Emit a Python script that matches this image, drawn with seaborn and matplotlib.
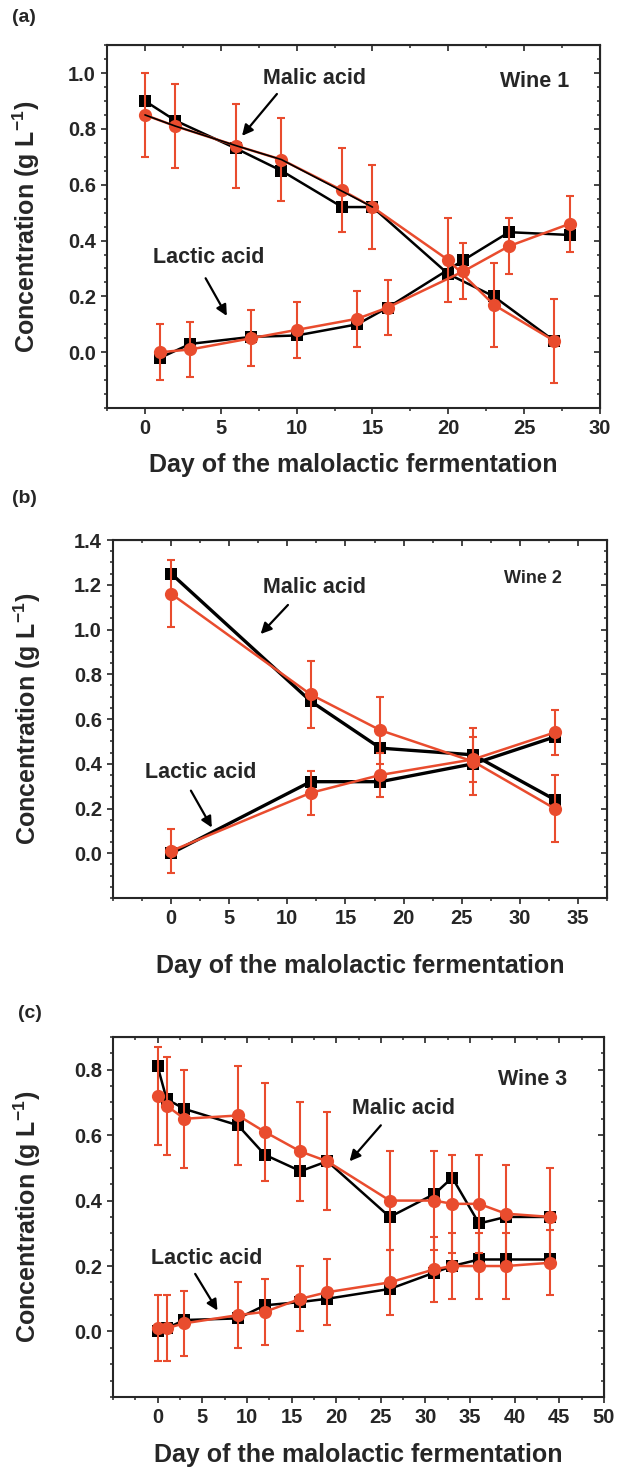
import matplotlib
matplotlib.use("Agg")
import matplotlib.pyplot as plt
from matplotlib.ticker import MultipleLocator, FormatStrFormatter
import seaborn as sns

sns.set_style("ticks")
plt.rcParams["font.family"] = ["Liberation Sans", "DejaVu Sans"]
plt.rcParams["font.weight"] = "bold"
plt.rcParams["mathtext.fontset"] = "custom"
plt.rcParams["mathtext.rm"] = "Liberation Sans:bold"
plt.rcParams["mathtext.default"] = "rm"

RED = "#E94C2E"

# (a) Wine 1 - malic and lactic sampled on alternate days
a_malic_days = [0, 2, 6, 9, 13, 15, 20, 23, 27]
a_malic_black = [0.90, 0.83, 0.73, 0.65, 0.52, 0.52, 0.28, 0.20, 0.04]
a_malic_red = [0.85, 0.81, 0.74, 0.69, 0.58, 0.52, 0.33, 0.17, 0.04]
a_malic_err = [0.15] * 9
a_lactic_days = [1, 3, 7, 10, 14, 16, 21, 24, 28]
a_lactic_black = [-0.02, 0.03, 0.055, 0.06, 0.10, 0.16, 0.33, 0.43, 0.42]
a_lactic_red = [0.00, 0.01, 0.05, 0.08, 0.12, 0.16, 0.29, 0.38, 0.46]
a_lactic_err = [0.10] * 9

# (b) Wine 2
b_days = [0, 12, 18, 26, 33]
b_malic_black = [1.25, 0.68, 0.47, 0.44, 0.24]
b_malic_red = [1.16, 0.71, 0.55, 0.41, 0.20]
b_malic_err = [0.15] * 5
b_lactic_black = [0.00, 0.32, 0.32, 0.40, 0.52]
b_lactic_red = [0.01, 0.27, 0.35, 0.42, 0.54]
b_lactic_err = [0.10] * 5

# (c) Wine 3
c_days = [0, 1, 3, 9, 12, 16, 19, 26, 31, 33, 36, 39, 44]
c_malic_black = [0.81, 0.71, 0.68, 0.63, 0.54, 0.49, 0.52, 0.35, 0.42, 0.47, 0.33, 0.35, 0.35]
c_malic_red = [0.72, 0.69, 0.65, 0.66, 0.61, 0.55, 0.52, 0.40, 0.40, 0.39, 0.39, 0.36, 0.35]
c_malic_err = [0.15] * 13
c_lactic_black = [0.00, 0.01, 0.035, 0.04, 0.08, 0.09, 0.10, 0.13, 0.18, 0.20, 0.22, 0.22, 0.22]
c_lactic_red = [0.01, 0.01, 0.025, 0.05, 0.06, 0.10, 0.12, 0.15, 0.19, 0.20, 0.20, 0.20, 0.21]
c_lactic_err = [0.10] * 13


def draw_series(ax, days, black, red, err, black_lw=1.8):
    sns.lineplot(x=days, y=black, ax=ax, color="black", marker="s", markersize=8.5,
                 markeredgewidth=0, linewidth=black_lw, estimator=None, zorder=2)
    ax.errorbar(days, red, yerr=err, fmt="none", ecolor=RED, elinewidth=1.5,
                capsize=3, capthick=1.5, zorder=3)
    sns.lineplot(x=days, y=red, ax=ax, color=RED, marker="o", markersize=9.5,
                 markeredgewidth=0, linewidth=1.8, estimator=None, zorder=4)


def style_axes(ax, xlim, ylim, xmax_tick, ymax_tick, xlabel_y, ylabel_x):
    ax.set_xlim(*xlim)
    ax.set_ylim(*ylim)
    yt = [i * 0.2 for i in range(int(round(ymax_tick / 0.2)) + 1)]
    ax.set_xticks(range(0, xmax_tick + 1, 5))
    ax.xaxis.set_minor_locator(MultipleLocator(2.5))
    ax.set_yticks(yt)
    ax.yaxis.set_minor_locator(MultipleLocator(0.05))
    ax.yaxis.set_major_formatter(FormatStrFormatter("%.1f"))
    ax.tick_params(which="major", direction="out", length=4.5, width=1.2, labelsize=14.5)
    ax.tick_params(which="minor", direction="out", length=2.5, width=1.1)
    for lab in ax.get_xticklabels() + ax.get_yticklabels():
        lab.set_fontweight("bold")
    for s in ax.spines.values():
        s.set_linewidth(1.5)
        s.set_visible(True)

    # Origin-style inward ticks on the top and right frame
    top = ax.secondary_xaxis("top")
    top.set_xticks(range(0, xmax_tick + 1, 5))
    top.xaxis.set_minor_locator(MultipleLocator(2.5))
    top.tick_params(which="major", direction="in", length=4.5, width=1.2, labeltop=False)
    top.tick_params(which="minor", direction="in", length=2.5, width=1.1)
    right = ax.secondary_yaxis("right")
    right.set_yticks(yt)
    right.yaxis.set_minor_locator(MultipleLocator(0.05))
    right.tick_params(which="major", direction="in", length=4.5, width=1.2, labelright=False)
    right.tick_params(which="minor", direction="in", length=2.5, width=1.1)

    ax.set_xlabel("Day of the malolactic fermentation", fontsize=18, fontweight="bold")
    ax.set_ylabel("Concentration (g L$^{-1}$)", fontsize=18, fontweight="bold")
    ax.xaxis.set_label_coords(0.5, xlabel_y)
    ax.yaxis.set_label_coords(ylabel_x, 0.5)


def arrow(ax, tail, head):
    ax.annotate("", xy=head, xytext=tail,
                arrowprops=dict(arrowstyle="-|>", color="black", lw=1.6,
                                mutation_scale=16, shrinkA=0, shrinkB=0))


fig = plt.figure(figsize=(6.19, 14.70), dpi=100)

# panel (a)
ax_a = fig.add_axes([0.1729, 0.7224, 0.7964, 0.2469])
draw_series(ax_a, a_malic_days, a_malic_black, a_malic_red, a_malic_err)
draw_series(ax_a, a_lactic_days, a_lactic_black, a_lactic_red, a_lactic_err)
# thin black trace running along the early red malic points
keep = [0, 1, 2, 3, 5]
ax_a.plot([a_malic_days[i] for i in keep], [a_malic_red[i] for i in keep],
          color="black", lw=1.2, zorder=5)
style_axes(ax_a, (-2.5, 30), (-0.2, 1.1), 30, 1.0, -0.125, -0.132)
ax_a.text(11.2, 0.98, "Malic acid", fontsize=15.5, fontweight="bold", ha="center", va="center")
arrow(ax_a, (8.7, 0.925), (6.4, 0.775))
ax_a.text(4.2, 0.34, "Lactic acid", fontsize=15.5, fontweight="bold", ha="center", va="center")
arrow(ax_a, (4.0, 0.265), (5.4, 0.13))
ax_a.text(25.7, 0.97, "Wine 1", fontsize=15.5, fontweight="bold", ha="center", va="center")

# panel (b)
ax_b = fig.add_axes([0.1826, 0.3891, 0.798, 0.2435])
draw_series(ax_b, b_days, b_malic_black, b_malic_red, b_malic_err, black_lw=2.4)
draw_series(ax_b, b_days, b_lactic_black, b_lactic_red, b_lactic_err, black_lw=2.4)
style_axes(ax_b, (-5, 37.5), (-0.2, 1.4), 35, 1.4, -0.156, -0.142)
ax_b.text(12.3, 1.19, "Malic acid", fontsize=15.5, fontweight="bold", ha="center", va="center")
arrow(ax_b, (10.05, 1.11), (7.7, 0.98))
ax_b.text(2.5, 0.36, "Lactic acid", fontsize=15.5, fontweight="bold", ha="center", va="center")
arrow(ax_b, (1.7, 0.28), (3.5, 0.115))
ax_b.text(31.1, 1.23, "Wine 2", fontsize=13, fontweight="bold", ha="center", va="center")

# panel (c)
ax_c = fig.add_axes([0.1826, 0.0497, 0.7932, 0.2449])
draw_series(ax_c, c_days, c_malic_black, c_malic_red, c_malic_err)
draw_series(ax_c, c_days, c_lactic_black, c_lactic_red, c_lactic_err)
style_axes(ax_c, (-5, 50), (-0.2, 0.9), 50, 0.8, -0.128, -0.142)
ax_c.text(27.5, 0.68, "Malic acid", fontsize=15.5, fontweight="bold", ha="center", va="center")
arrow(ax_c, (25.0, 0.63), (21.5, 0.52))
ax_c.text(5.5, 0.224, "Lactic acid", fontsize=15.5, fontweight="bold", ha="center", va="center")
arrow(ax_c, (4.2, 0.176), (6.7, 0.064))
ax_c.text(42, 0.77, "Wine 3", fontsize=15.5, fontweight="bold", ha="center", va="center")

# panel letters
fig.text(12 / 619, 1 - 18 / 1470, "(a)", fontsize=14, fontweight="bold", va="center")
fig.text(12 / 619, 1 - 498 / 1470, "(b)", fontsize=14, fontweight="bold", va="center")
fig.text(18 / 619, 1 - 1014 / 1470, "(c)", fontsize=14, fontweight="bold", va="center")

fig.savefig("out.png", dpi=100)
